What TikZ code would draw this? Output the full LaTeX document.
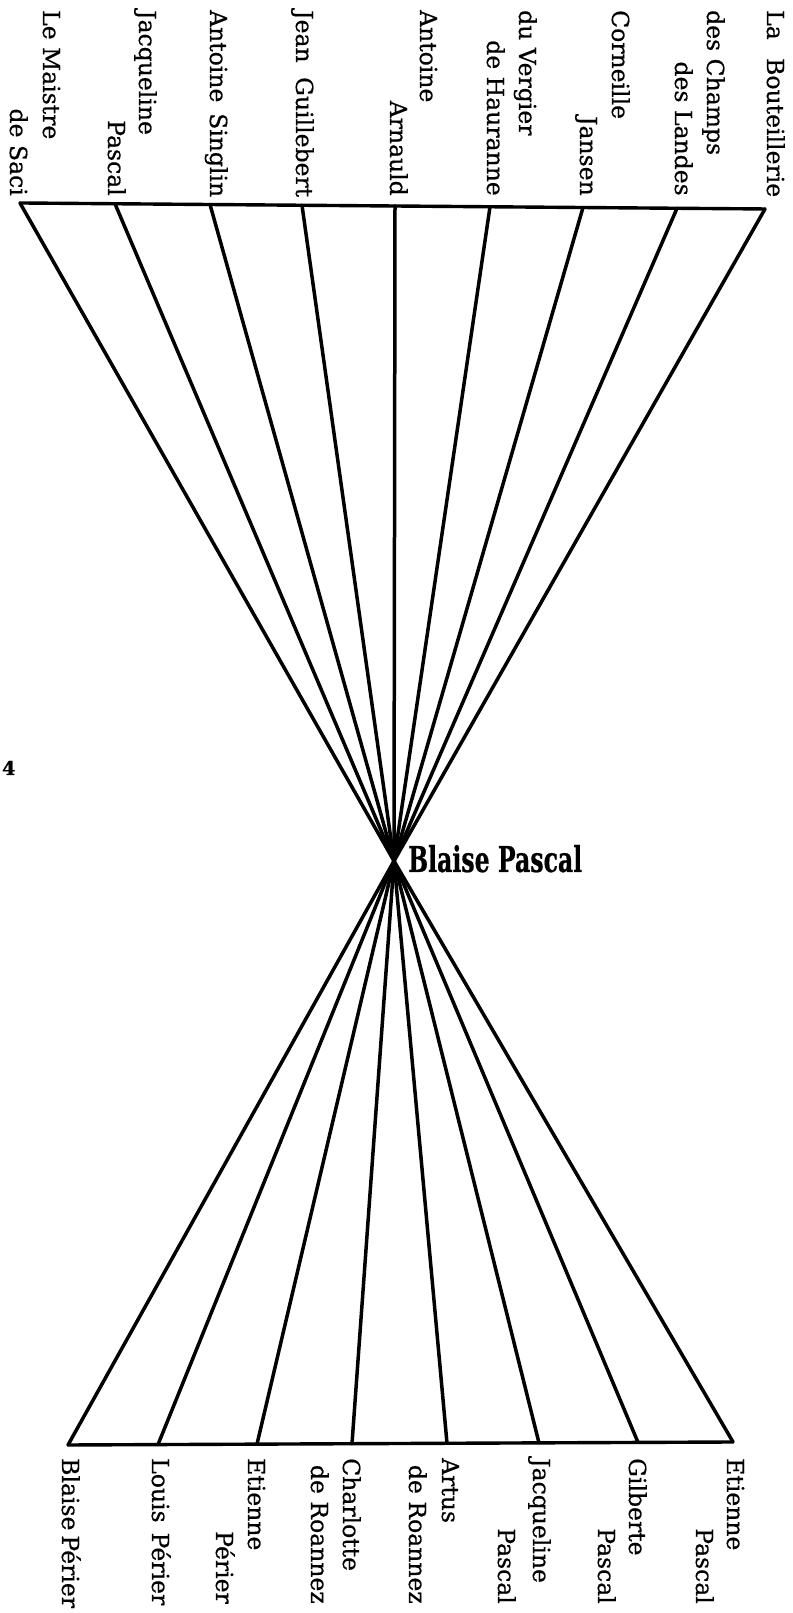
\documentclass[tikz,border=0pt]{standalone}
\usepackage{fontspec}
\usepackage{graphicx}
\setmainfont{DejaVu Serif}[FakeBold=0.6]
\tikzset{
  fan/.style={line width=3.5pt,line cap=round},
  bar/.style={line width=3.4pt,line cap=round,line join=round},
  person/.style={rotate=-90,inner sep=0pt,font=\fontsize{23.5}{28}\selectfont},
  lineone/.style={person,anchor=base west},
  linetwo/.style={person,anchor=base east}
}

\begin{document}
\begin{tikzpicture}[x=1pt,y=1pt]
  \useasboundingbox (0,0) rectangle (792,1613);

  % ends of the rays on the upper bar (teachers, Port-Royal)
  \coordinate (t1) at (20,1410);
  \coordinate (t2) at (115,1409.2);
  \coordinate (t3) at (210,1408.5);
  \coordinate (t4) at (302,1407.7);
  \coordinate (t5) at (395,1407);
  \coordinate (t6) at (490,1406.2);
  \coordinate (t7) at (583,1405.5);
  \coordinate (t8) at (677,1404.7);
  \coordinate (t9) at (765,1404);
  % ends of the rays on the lower bar (family, friends)
  \coordinate (b1) at (68,168);
  \coordinate (b2) at (158,168.4);
  \coordinate (b3) at (257,168.9);
  \coordinate (b4) at (352,169.3);
  \coordinate (b5) at (447,169.7);
  \coordinate (b6) at (539,170.1);
  \coordinate (b7) at (638,170.6);
  \coordinate (b8) at (733,171);
  \coordinate (c) at (394,752);

  \node[anchor=base west,inner sep=0pt] (pascal) at (408,741) {\resizebox{174pt}{27pt}{\bfseries Blaise Pascal}};
  \node[anchor=base west,inner sep=0pt,font=\fontsize{19}{22}\selectfont\bfseries] (folio) at (2,838) {4};

  % upper names
  \node[lineone] (maistre) at (43,1603) {Le Maistre};
  \node[linetwo] (saci) at (10,1417) {de Saci};
  \node[lineone] (jacq) at (139,1603) {Jacqueline};
  \node[linetwo] (jacqpas) at (108,1417) {Pascal};
  \node[lineone] (singlin) at (210,1603) {\makebox[187pt][s]{Antoine Singlin}};
  \node[lineone] (guillebert) at (296,1603) {\makebox[187pt][s]{Jean Guillebert}};
  \node[lineone] (antoine) at (420,1603) {Antoine};
  \node[linetwo] (arnauld) at (390,1417) {Arnauld};
  \node[lineone] (vergier) at (519,1603) {du Vergier};
  \node[linetwo] (hauranne) at (487,1417) {de Hauranne};
  \node[lineone] (corneille) at (612,1603) {Corneille};
  \node[linetwo] (jansen) at (580,1417) {Jansen};
  \node[lineone] (champs) at (707,1603) {des Champs};
  \node[linetwo] (landes) at (675,1417) {des Landes};
  \node[lineone] (bouteillerie) at (767,1603) {\makebox[187pt][s]{La Bouteillerie}};

  % lower names
  \node[lineone] (blaise) at (62,155) {\makebox[147pt][s]{Blaise Périer}};
  \node[lineone] (louis) at (152,155) {\makebox[147pt][s]{Louis Périer}};
  \node[lineone] (etper) at (248,155) {Etienne};
  \node[linetwo] (perier) at (216,9) {Périer};
  \node[lineone] (charlotte) at (343,155) {Charlotte};
  \node[linetwo] (roannezc) at (311,9) {de Roannez};
  \node[lineone] (artus) at (442,155) {Artus};
  \node[linetwo] (roanneza) at (409,9) {de Roannez};
  \node[lineone] (jacqueline) at (533,155) {Jacqueline};
  \node[linetwo] (jacqpascal) at (498,9) {Pascal};
  \node[lineone] (gilberte) at (629,155) {Gilberte};
  \node[linetwo] (gilpascal) at (598,9) {Pascal};
  \node[lineone] (etienne) at (727,155) {Etienne};
  \node[linetwo] (etpascal) at (696,9) {Pascal};

  \draw[bar] (t1) -- (t9);
  \draw[bar] (b1) -- (b8);

  \draw[fan] (t1) -- (c);
  \draw[fan] (t2) -- (c);
  \draw[fan] (t3) -- (c);
  \draw[fan] (t4) -- (c);
  \draw[fan] (t5) -- (c);
  \draw[fan] (t6) -- (c);
  \draw[fan] (t7) -- (c);
  \draw[fan] (t8) -- (c);
  \draw[fan] (t9) -- (c);
  \draw[fan] (c) -- (b1);
  \draw[fan] (c) -- (b2);
  \draw[fan] (c) -- (b3);
  \draw[fan] (c) -- (b4);
  \draw[fan] (c) -- (b5);
  \draw[fan] (c) -- (b6);
  \draw[fan] (c) -- (b7);
  \draw[fan] (c) -- (b8);
\end{tikzpicture}
\end{document}
